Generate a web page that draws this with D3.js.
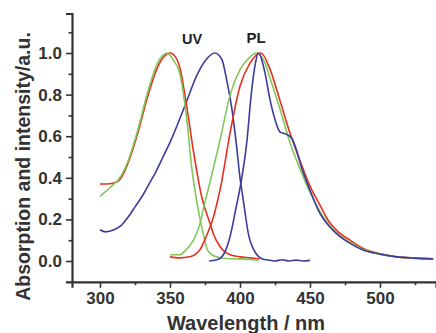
<!DOCTYPE html>
<html><head><meta charset="utf-8">
<script src="https://cdn.jsdelivr.net/npm/d3@7"></script>
<style>
html,body{margin:0;padding:0;background:#fff;}
svg{display:block;font-family:"Liberation Sans",Arial,sans-serif;}
</style></head>
<body>
<svg id="chart" width="436" height="333"></svg>
<script>
// ---- data ----
const xTicks = [300, 350, 400, 450, 500];
const yTicks = [0.0, 0.2, 0.4, 0.6, 0.8, 1.0];

const redUV_x = [300,305,312,316,320,327,334,341,346,350,354,357,362,366.7,372.6,378.6,381,385.7,393,400,407,414];
const redUV_y = [0.37,0.37,0.38,0.41,0.47,0.615,0.79,0.93,0.985,1.0,0.98,0.93,0.74,0.53,0.31,0.18,0.13,0.07,0.03,0.02,0.015,0.01];

const greenUV_x = [300,305,310,313,316,320,327,334,341,345,348,352,357,362,365.5,369,373.8,377,383,390,400,414];
const greenUV_y = [0.31,0.34,0.37,0.39,0.42,0.48,0.63,0.81,0.95,0.99,1.0,0.97,0.9,0.68,0.45,0.29,0.13,0.05,0.02,0.012,0.01,0.005];

const blueUV_x = [300,304,310,315,320,325,330,335,340,345,350,355,362,369,376,382,387,390.5,394,397.6,400,402.4,406,411,416,420,425,430,435,440,445,450];
const blueUV_y = [0.15,0.14,0.15,0.17,0.21,0.26,0.31,0.37,0.43,0.50,0.57,0.65,0.77,0.89,0.97,1.0,0.97,0.87,0.74,0.55,0.4,0.29,0.13,0.04,0.01,0.005,0.0,0.006,0.0,0.004,0.0,0.003];

const greenPL_x = [350,357,361,366.7,371,373.8,378.6,385.7,393,400,407,412,418,421,428.6,435.7,443,450,457,464,471,478.6,488,500,512,524,538];
const greenPL_y = [0.03,0.03,0.05,0.10,0.17,0.25,0.38,0.58,0.8,0.92,0.98,1.0,0.95,0.89,0.73,0.57,0.44,0.33,0.24,0.17,0.125,0.09,0.055,0.033,0.02,0.014,0.01];

const redPL_x = [350,357,364,371,376,381,384,386,393,400,407,415,421,428.6,435.7,443,450,457,464,471,478.6,488,500,512,524,538];
const redPL_y = [0.02,0.015,0.02,0.05,0.12,0.21,0.29,0.35,0.62,0.84,0.95,1.0,0.93,0.77,0.615,0.48,0.36,0.27,0.185,0.135,0.10,0.06,0.035,0.02,0.015,0.01];

const bluePL_x = [378,385,389,393,397,400,405,408,411,413,418,421,425,428.6,433,437,440.5,443,450,457,464,471,478.6,488,500,512,524,538];
const bluePL_y = [0.0,0.01,0.04,0.12,0.25,0.35,0.58,0.8,0.95,1.0,0.9,0.79,0.68,0.62,0.61,0.59,0.53,0.47,0.34,0.23,0.165,0.12,0.085,0.053,0.033,0.02,0.014,0.01];

const series = [
  {x: blueUV_x, y: blueUV_y, color: "#3c3c9c"},
  {x: redUV_x, y: redUV_y, color: "#e5301f"},
  {x: greenUV_x, y: greenUV_y, color: "#80c85a"},
  {x: redPL_x, y: redPL_y, color: "#e5301f"},
  {x: greenPL_x, y: greenPL_y, color: "#80c85a"},
  {x: bluePL_x, y: bluePL_y, color: "#3c3c9c"}
];

// ---- chart ----
const svg = d3.select("#chart");
const x = d3.scaleLinear().domain([280, 540]).range([72, 436]);
const y = d3.scaleLinear().domain([-0.1, 1.19]).range([281.8, 13.5]);

const line = d3.line().x(d => x(d[0])).y(d => y(d[1])).curve(d3.curveMonotoneX);
series.forEach(s => {
  const pts = s.x.map((v, i) => [v, s.y[i]]);
  svg.append("path").attr("d", line(pts)).attr("fill", "none")
    .attr("stroke", s.color).attr("stroke-width", 1.6).attr("stroke-linejoin", "round");
});

const axisColor = "#333";
const font = "'Liberation Sans', Arial, sans-serif";
// x axis
svg.append("g").attr("transform", `translate(0,${y(-0.1)})`)
  .call(d3.axisBottom(x).tickValues(xTicks).tickSize(6).tickPadding(4).tickFormat(d3.format("d")));
svg.append("g").attr("transform", `translate(0,${y(-0.1)})`)
  .call(d3.axisBottom(x).tickValues([325,375,425,475,525]).tickSize(3.5).tickFormat(""))
  .select(".domain").remove();
// y axis
svg.append("g").attr("transform", `translate(${x(280)},0)`)
  .call(d3.axisLeft(y).tickValues(yTicks).tickSize(6).tickPadding(4).tickFormat(d3.format(".1f")));
svg.append("g").attr("transform", `translate(${x(280)},0)`)
  .call(d3.axisLeft(y).tickValues([0.1,0.3,0.5,0.7,0.9,1.1]).tickSize(3.5).tickFormat(""))
  .select(".domain").remove();

svg.selectAll(".domain").attr("stroke", axisColor).attr("stroke-width", 2.2);
svg.selectAll(".tick line").attr("stroke", axisColor).attr("stroke-width", 1.6);
svg.selectAll(".tick text").attr("fill", axisColor).style("font-size", "17px").style("font-weight", "bold")
  .style("font-family", font);

// labels
svg.append("text").attr("x", 192).attr("y", 44).attr("text-anchor", "middle")
  .style("font-size", "14.5px").style("font-weight", "bold").attr("fill", "#222").text("UV");
svg.append("text").attr("x", 256).attr("y", 43).attr("text-anchor", "middle")
  .style("font-size", "15px").style("font-weight", "bold").attr("fill", "#222").text("PL");

svg.append("text").attr("x", 246).attr("y", 330).attr("text-anchor", "middle")
  .style("font-size", "20px").style("font-weight", "bold").attr("fill", "#333").text("Wavelength / nm");
svg.append("text").attr("transform", "translate(29.5,166.5) rotate(-90)").attr("text-anchor", "middle")
  .style("font-size", "19.5px").style("font-weight", "bold").attr("fill", "#333")
  .text("Absorption and intensity/a.u.");
</script>
</body></html>
